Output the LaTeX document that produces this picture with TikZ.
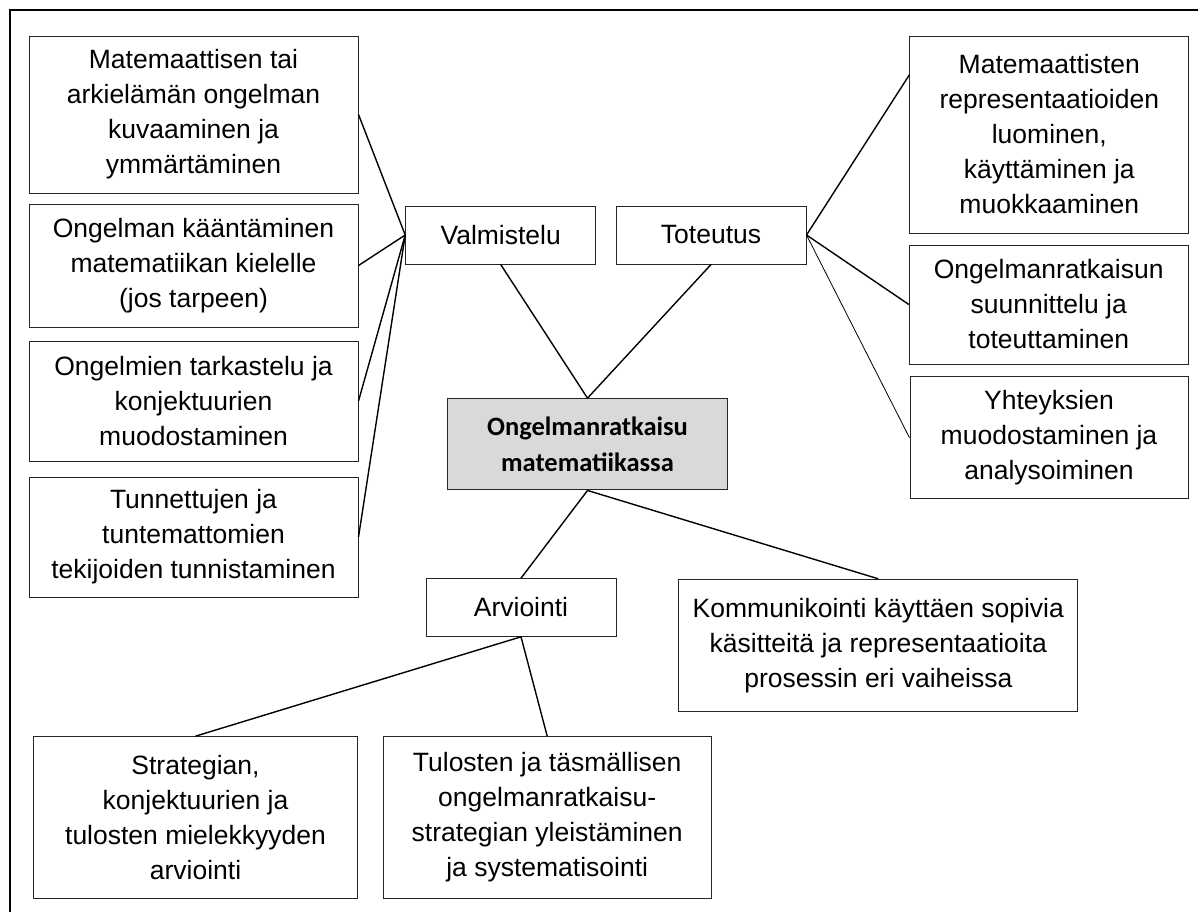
\documentclass[tikz,border=0pt]{standalone}
\usepackage{fontspec}
\setmainfont{Liberation Sans}
\newfontfamily\calfont{Carlito}
\usetikzlibrary{calc}
\begin{document}
\begin{tikzpicture}[x=1pt,y=-1pt,
  box/.style={draw=black!85, line width=1pt, inner sep=0pt, align=center,
    text=black, font=\fontsize{26.5}{35}\selectfont},
  mainbox/.style={box, fill=black!15, font=\calfont\bfseries\fontsize{26.5}{36.5}\selectfont},
  conn/.style={line width=1.4pt},
  thinconn/.style={line width=0.8pt},
  frame/.style={line width=2pt}]
\useasboundingbox (0,0) rectangle (1198,911);
\coordinate (fbl) at (10,912);
\coordinate (ftl) at (10,10);
\coordinate (ftr) at (1199,10);
\draw[frame] (fbl) -- (ftl) -- (ftr);

% left column
\node[box, minimum width=329, minimum height=157] (L1) at (193.5,114.5)
  {Matemaattisen tai\\arkielämän ongelman\\kuvaaminen ja\\ymmärtäminen};
\node[box, minimum width=329, minimum height=123] (L2) at (193.5,265.5)
  {Ongelman kääntäminen\\matematiikan kielelle\\(jos tarpeen)};
\node[box, minimum width=329, minimum height=120] (L3) at (193.5,401)
  {Ongelmien tarkastelu ja\\konjektuurien\\muodostaminen};
\node[box, minimum width=329, minimum height=120] (L4) at (193.5,537)
  {Tunnettujen ja\\tuntemattomien\\tekijoiden tunnistaminen};

% middle
\node[box, minimum width=190, minimum height=58] (V) at (500.7,235) {Valmistelu};
\node[box, minimum width=190, minimum height=58] (T) at (711,235) {Toteutus};
\node[mainbox, minimum width=279.6, minimum height=91.3] (C) at (587.5,444.3)
  {Ongelmanratkaisu\\matematiikassa};

% right column
\node[box, minimum width=278.7, minimum height=197] (R1) at (1049.3,134.5)
  {Matemaattisten\\representaatioiden\\luominen,\\käyttäminen ja\\muokkaaminen};
\node[box, minimum width=278.7, minimum height=119] (R2) at (1048.7,304.5)
  {Ongelmanratkaisun\\suunnittelu ja\\toteuttaminen};
\node[box, minimum width=278, minimum height=122.3] (R3) at (1049,437.8)
  {Yhteyksien\\muodostaminen ja\\analysoiminen};

% lower part
\node[box, minimum width=190, minimum height=57.6] (A) at (521,607.5) {Arviointi};
\node[box, minimum width=398.7, minimum height=132] (K) at (878.3,645.3)
  {Kommunikointi käyttäen sopivia\\käsitteitä ja representaatioita\\prosessin eri vaiheissa};
\node[box, minimum width=324.4, minimum height=162.3] (B1) at (195.5,817.8)
  {Strategian,\\konjektuurien ja\\tulosten mielekkyyden\\arviointi};
\node[box, minimum width=327.7, minimum height=161.7] (B2) at (547.2,817.5)
  {Tulosten ja täsmällisen\\ongelmanratkaisu-\\strategian yleistäminen\\ja systematisointi};

% connectors
\draw[conn] (L1.east) -- (V.west);
\draw[conn] (L2.east) -- (V.west);
\draw[conn] (L3.east) -- (V.west);
\draw[conn] (L4.east) -- (V.west);
\draw[conn] (V.south) -- (C.north);
\draw[conn] (T.south) -- (C.north);
\draw[conn] (T.east) -- ($(R1.north west)!0.198!(R1.south west)$);
\draw[conn] (T.east) -- (R2.west);
\draw[thinconn] (T.east) -- (R3.west);
\draw[conn] (C.south) -- (A.north);
\draw[conn] (C.south) -- (K.north);
\draw[conn] (A.south) -- (B1.north);
\draw[conn] (A.south) -- (B2.north);
\end{tikzpicture}
\end{document}
